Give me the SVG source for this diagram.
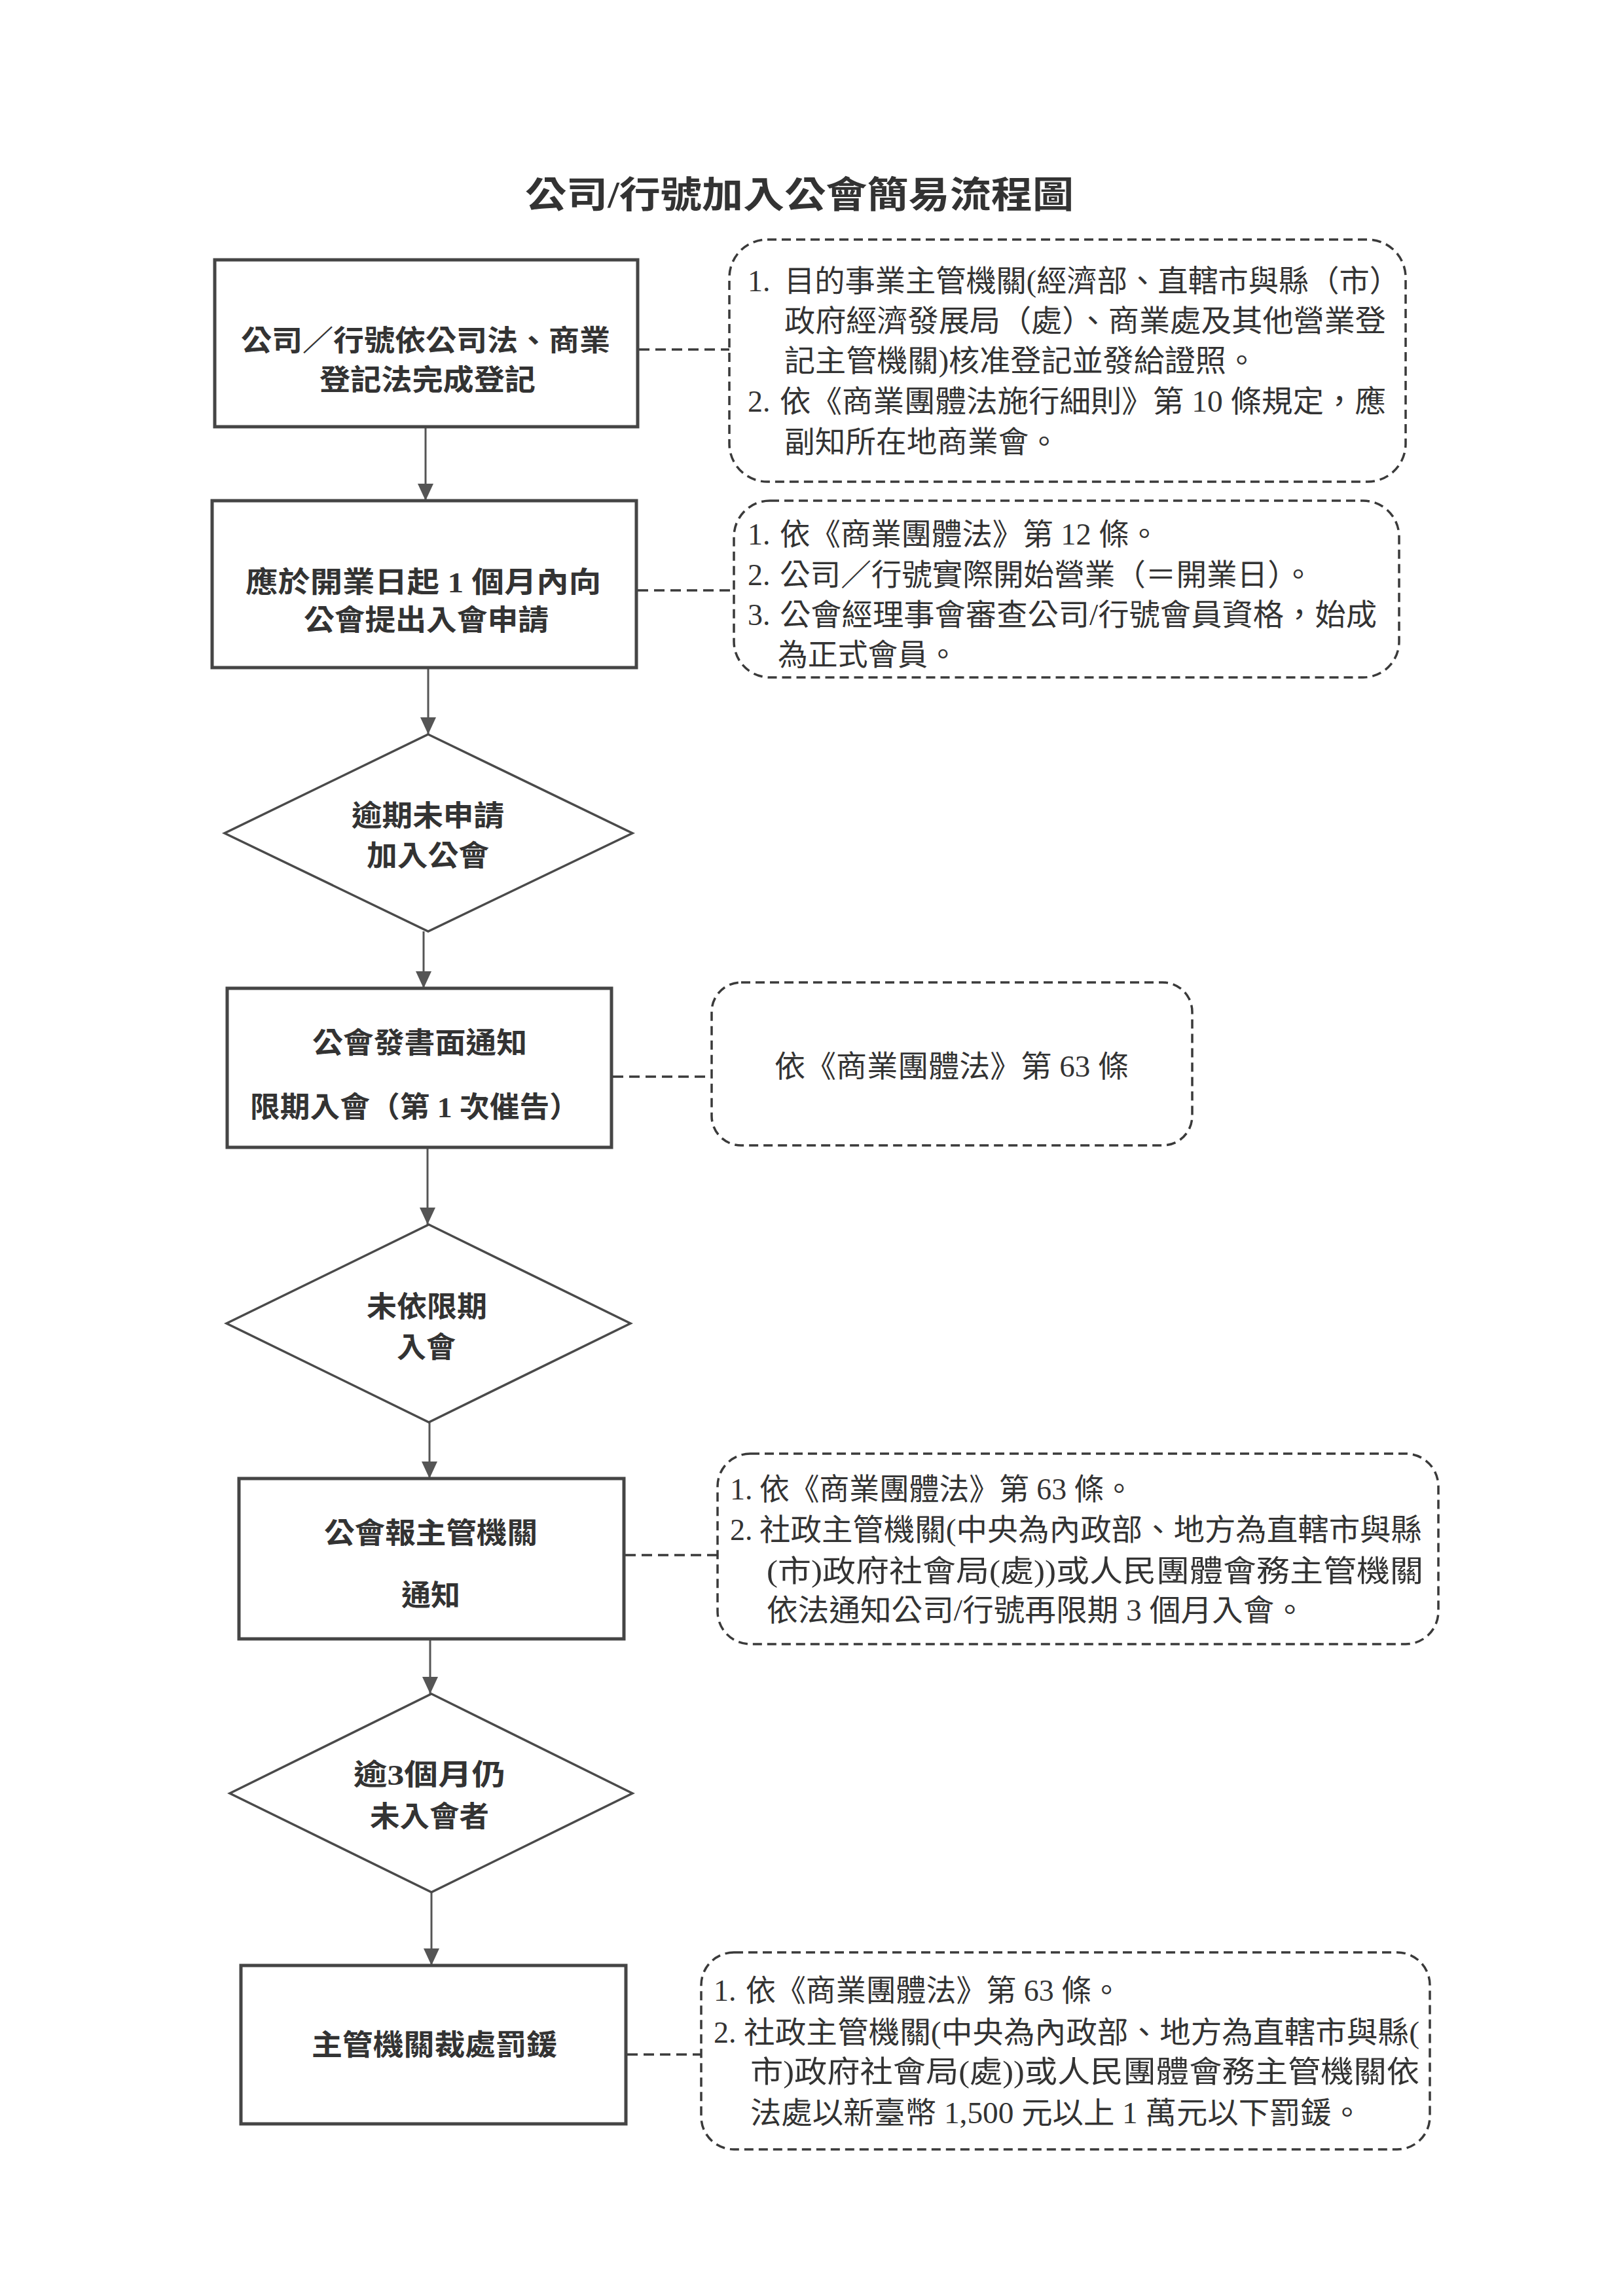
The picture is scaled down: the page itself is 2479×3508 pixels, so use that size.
<svg xmlns="http://www.w3.org/2000/svg" width="2479" height="3508" viewBox="0 0 2479 3508">
<defs>
<marker id="arr" viewBox="0 -13 27 26" refX="26" refY="0" markerWidth="27" markerHeight="26" markerUnits="userSpaceOnUse" orient="auto">
<path d="M0,-12 L26,0 L0,12 z" fill="#555"/>
</marker>
<style>
.box{fill:#fff;stroke:#454545;stroke-width:5}
.dia{fill:#fff;stroke:#4a4a4a;stroke-width:3.5}
.note{fill:none;stroke:#3a3a3a;stroke-width:3.5;stroke-dasharray:14 8}
.link{fill:none;stroke:#3a3a3a;stroke-width:3.5;stroke-dasharray:16 9}
.flow{fill:none;stroke:#555;stroke-width:3;marker-end:url(#arr)}
.tt{font-family:"Liberation Serif","Noto Sans CJK TC",serif;font-weight:700;font-size:56px;fill:#333}
.bt{font-family:"Liberation Serif","Noto Sans CJK TC",serif;font-weight:700;font-size:44px;fill:#333}
.nt{font-family:"Liberation Serif","Noto Sans CJK TC",serif;font-weight:400;font-size:46px;fill:#333}
</style>
</defs>
<rect width="2479" height="3508" fill="#fff"/>

<text id="title" class="tt" x="802" y="317" textLength="838" lengthAdjust="spacingAndGlyphs">公司/行號加入公會簡易流程圖</text>

<g id="connectors">
<line class="flow" x1="650" y1="652" x2="650" y2="765"/>
<line class="flow" x1="654" y1="1020" x2="654" y2="1122"/>
<line class="flow" x1="647" y1="1423" x2="647" y2="1510"/>
<line class="flow" x1="653" y1="1753" x2="653" y2="1871"/>
<line class="flow" x1="656" y1="2173" x2="656" y2="2259"/>
<line class="flow" x1="657" y1="2504" x2="657" y2="2588"/>
<line class="flow" x1="659" y1="2891" x2="659" y2="3003"/>
<line class="link" x1="976" y1="534" x2="1114" y2="534"/>
<line class="link" x1="974" y1="902" x2="1121" y2="902"/>
<line class="link" x1="936" y1="1645" x2="1087" y2="1645"/>
<line class="link" x1="955" y1="2376" x2="1096" y2="2376"/>
<line class="link" x1="958" y1="3139" x2="1071" y2="3139"/>
</g>

<g id="n1">
<rect class="box" x="328" y="397" width="646" height="255"/>
<text class="bt" x="368" y="536" textLength="564" lengthAdjust="spacingAndGlyphs">公司／行號依公司法、商業</text>
<text class="bt" x="488" y="596" textLength="330" lengthAdjust="spacingAndGlyphs">登記法完成登記</text>
</g>
<g id="note1">
<rect class="note" x="1114" y="366" width="1033" height="370" rx="58" ry="58"/>
<text class="nt" x="1142" y="445">1.</text>
<text class="nt" x="1198" y="445" textLength="940" lengthAdjust="spacingAndGlyphs">目的事業主管機關(經濟部、直轄市與縣（市）</text>
<text class="nt" x="1198" y="506" textLength="919" lengthAdjust="spacingAndGlyphs">政府經濟發展局（處）、商業處及其他營業登</text>
<text class="nt" x="1198" y="567" textLength="722" lengthAdjust="spacingAndGlyphs">記主管機關)核准登記並發給證照。</text>
<text class="nt" x="1142" y="629">2.</text>
<text class="nt" x="1191" y="629" textLength="926" lengthAdjust="spacingAndGlyphs">依《商業團體法施行細則》第 10 條規定，應</text>
<text class="nt" x="1198" y="691" textLength="420" lengthAdjust="spacingAndGlyphs">副知所在地商業會。</text>
</g>

<g id="n2">
<rect class="box" x="324" y="765" width="648" height="255"/>
<text class="bt" x="375" y="905" textLength="543" lengthAdjust="spacingAndGlyphs">應於開業日起 1 個月內向</text>
<text class="bt" x="464" y="963" textLength="374" lengthAdjust="spacingAndGlyphs">公會提出入會申請</text>
</g>
<g id="note2">
<rect class="note" x="1121" y="765" width="1016" height="270" rx="55" ry="55"/>
<text class="nt" x="1142" y="832">1.</text>
<text class="nt" x="1191" y="832" textLength="580" lengthAdjust="spacingAndGlyphs">依《商業團體法》第 12 條。</text>
<text class="nt" x="1142" y="894">2.</text>
<text class="nt" x="1191" y="894" textLength="815" lengthAdjust="spacingAndGlyphs">公司／行號實際開始營業（＝開業日）。</text>
<text class="nt" x="1142" y="955">3.</text>
<text class="nt" x="1191" y="955" textLength="912" lengthAdjust="spacingAndGlyphs">公會經理事會審查公司/行號會員資格，始成</text>
<text class="nt" x="1188" y="1016" textLength="275" lengthAdjust="spacingAndGlyphs">為正式會員。</text>
</g>

<g id="d1">
<polygon class="dia" points="654,1122 966,1273 654,1423 343,1273"/>
<text class="bt" x="537" y="1262" textLength="233" lengthAdjust="spacingAndGlyphs">逾期未申請</text>
<text class="bt" x="560" y="1323" textLength="187" lengthAdjust="spacingAndGlyphs">加入公會</text>
</g>

<g id="n3">
<rect class="box" x="347" y="1510" width="587" height="243"/>
<text class="bt" x="477" y="1609" textLength="328" lengthAdjust="spacingAndGlyphs">公會發書面通知</text>
<text class="bt" x="382" y="1707" textLength="503" lengthAdjust="spacingAndGlyphs">限期入會（第 1 次催告）</text>
</g>
<g id="note3">
<rect class="note" x="1087" y="1501" width="734" height="249" rx="45" ry="45"/>
<text class="nt" x="1183" y="1645" textLength="541" lengthAdjust="spacingAndGlyphs">依《商業團體法》第 63 條</text>
</g>

<g id="d2">
<polygon class="dia" points="655,1871 963,2022 655,2173 346,2022"/>
<text class="bt" x="560" y="2012" textLength="184" lengthAdjust="spacingAndGlyphs">未依限期</text>
<text class="bt" x="606" y="2074" textLength="90" lengthAdjust="spacingAndGlyphs">入會</text>
</g>

<g id="n4">
<rect class="box" x="365" y="2259" width="588" height="245"/>
<text class="bt" x="495" y="2358" textLength="326" lengthAdjust="spacingAndGlyphs">公會報主管機關</text>
<text class="bt" x="613" y="2453" textLength="90" lengthAdjust="spacingAndGlyphs">通知</text>
</g>
<g id="note4">
<rect class="note" x="1096" y="2221" width="1101" height="291" rx="50" ry="50"/>
<text class="nt" x="1115" y="2291">1.</text>
<text class="nt" x="1160" y="2291" textLength="572" lengthAdjust="spacingAndGlyphs">依《商業團體法》第 63 條。</text>
<text class="nt" x="1115" y="2353">2.</text>
<text class="nt" x="1160" y="2353" textLength="1012" lengthAdjust="spacingAndGlyphs">社政主管機關(中央為內政部、地方為直轄市與縣</text>
<text class="nt" x="1171" y="2416" textLength="1003" lengthAdjust="spacingAndGlyphs">(市)政府社會局(處))或人民團體會務主管機關</text>
<text class="nt" x="1171" y="2476" textLength="823" lengthAdjust="spacingAndGlyphs">依法通知公司/行號再限期 3 個月入會。</text>
</g>

<g id="d3">
<polygon class="dia" points="659,2588 966,2740 659,2891 351,2740"/>
<text class="bt" x="540" y="2727" textLength="232" lengthAdjust="spacingAndGlyphs">逾3個月仍</text>
<text class="bt" x="565" y="2791" textLength="182" lengthAdjust="spacingAndGlyphs">未入會者</text>
</g>

<g id="n5">
<rect class="box" x="368" y="3003" width="588" height="242"/>
<text class="bt" x="476" y="3140" textLength="375" lengthAdjust="spacingAndGlyphs">主管機關裁處罰鍰</text>
</g>
<g id="note5">
<rect class="note" x="1071" y="2983" width="1113" height="301" rx="50" ry="50"/>
<text class="nt" x="1090" y="3057">1.</text>
<text class="nt" x="1139" y="3057" textLength="574" lengthAdjust="spacingAndGlyphs">依《商業團體法》第 63 條。</text>
<text class="nt" x="1090" y="3121">2.</text>
<text class="nt" x="1136" y="3121" textLength="1032" lengthAdjust="spacingAndGlyphs">社政主管機關(中央為內政部、地方為直轄市與縣(</text>
<text class="nt" x="1146" y="3181" textLength="1022" lengthAdjust="spacingAndGlyphs">市)政府社會局(處))或人民團體會務主管機關依</text>
<text class="nt" x="1146" y="3244" textLength="935" lengthAdjust="spacingAndGlyphs">法處以新臺幣 1,500 元以上 1 萬元以下罰鍰。</text>
</g>
</svg>
